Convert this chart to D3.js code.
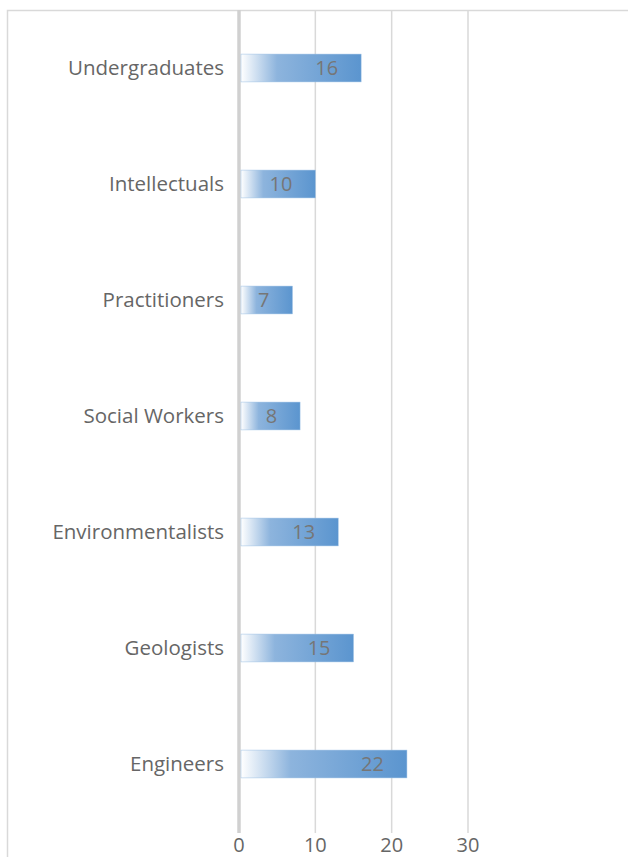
<!DOCTYPE html>
<html><head><meta charset="utf-8">
<script src="https://cdn.jsdelivr.net/npm/d3@7"></script>
<style>body{margin:0;background:#fff}svg{display:block}</style>
</head><body>
<svg id="c" width="628" height="857"></svg>
<script>
const categories = ["Undergraduates","Intellectuals","Practitioners","Social Workers","Environmentalists","Geologists","Engineers"];
const values = [16,10,7,8,13,15,22];
const ticks = [0,10,20,30];

const svg = d3.select("#c");
const font = "'Open Sans', sans-serif";
// frame
svg.append("path").attr("d","M7.5,857 V10.5 H628").attr("fill","none").attr("stroke","#d9d9d9").attr("stroke-width",1.5);

const x = d3.scaleLinear().domain([0,30]).range([239,468]);
const y = d3.scaleBand().domain(categories).range([10,822]).paddingInner(0.76).paddingOuter(0.38);

const defs = svg.append("defs");
const g = defs.append("linearGradient").attr("id","bg").attr("x1","0").attr("x2","1");
g.append("stop").attr("offset","0").attr("stop-color","#ffffff");
g.append("stop").attr("offset","0.3").attr("stop-color","#8db4dd");
g.append("stop").attr("offset","1").attr("stop-color","#5b95cf");

// grid
svg.append("g").selectAll("line").data(ticks.slice(1)).join("line")
  .attr("x1",d=>x(d)).attr("x2",d=>x(d)).attr("y1",10).attr("y2",833)
  .attr("stroke","#d9d9d9").attr("stroke-width",1.5);
svg.append("line").attr("x1",x(0)).attr("x2",x(0)).attr("y1",10).attr("y2",833)
  .attr("stroke","#d0d0d0").attr("stroke-width",3.5);

// bars
const data = categories.map((c,i)=>({c,v:values[i]}));
svg.append("g").selectAll("rect").data(data).join("rect")
  .attr("x",x(0)+2).attr("y",d=>y(d.c)).attr("height",y.bandwidth())
  .attr("width",d=>x(d.v)-x(0)-2).attr("fill","url(#bg)")
  .attr("stroke","#9cc0e4").attr("stroke-width",0.5);

// value labels
svg.append("g").selectAll("text").data(data).join("text")
  .attr("x",d=>x(d.v)-23).attr("y",d=>y(d.c)+y.bandwidth()/2).attr("dy","0.36em")
  .attr("text-anchor","end").attr("font-family",font).attr("font-size",20).attr("fill","#767676")
  .text(d=>d.v);

// category labels
svg.append("g").selectAll("text").data(categories).join("text")
  .attr("x",224).attr("y",d=>y(d)+y.bandwidth()/2).attr("dy","0.36em")
  .attr("text-anchor","end").attr("font-family",font).attr("font-size",20.5).attr("fill","#666666")
  .text(d=>d);

// x tick labels
svg.append("g").selectAll("text").data(ticks).join("text")
  .attr("x",d=>x(d)).attr("y",845).attr("dy","0.36em")
  .attr("text-anchor","middle").attr("font-family",font).attr("font-size",20).attr("fill","#666666")
  .text(d=>d);
</script>
</body></html>
